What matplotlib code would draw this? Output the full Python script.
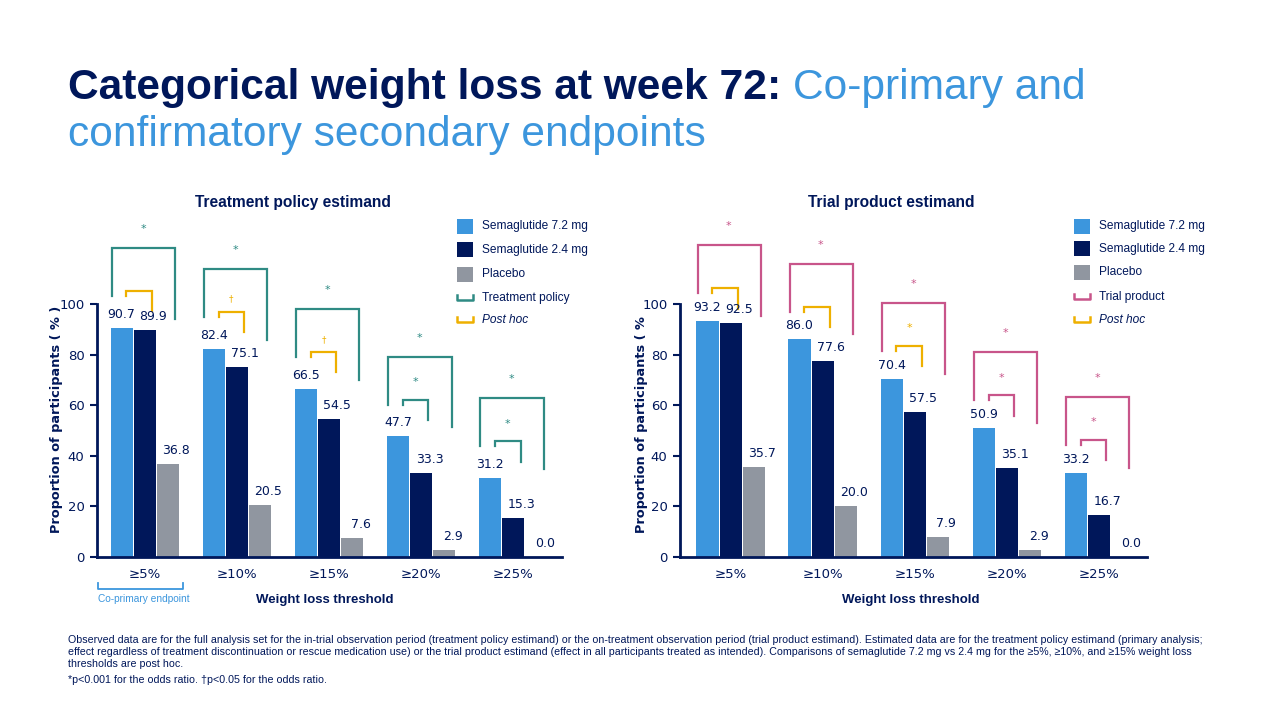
import matplotlib
matplotlib.use('Agg')
import matplotlib.pyplot as plt
from matplotlib.lines import Line2D
from matplotlib.patches import Rectangle

# data
categories = ['≥5%', '≥10%', '≥15%', '≥20%', '≥25%']
series = ['Semaglutide 7.2 mg', 'Semaglutide 2.4 mg', 'Placebo']

tp_sema72 = [90.7, 82.4, 66.5, 47.7, 31.2]
tp_sema24 = [89.9, 75.1, 54.5, 33.3, 15.3]
tp_placebo = [36.8, 20.5, 7.6, 2.9, 0.0]

tr_sema72 = [93.2, 86.0, 70.4, 50.9, 33.2]
tr_sema24 = [92.5, 77.6, 57.5, 35.1, 16.7]
tr_placebo = [35.7, 20.0, 7.9, 2.9, 0.0]

# inner comparison (7.2 vs 2.4): post hoc or not, and the significance sign
tp_inner_posthoc = [True, True, True, False, False]
tp_inner_sign = ['', '†', '†', '*', '*']
tr_inner_posthoc = [True, True, True, False, False]
tr_inner_sign = ['', '', '*', '*', '*']

NAVY = '#00175a'
BLUE = '#3c96dd'
GRAY = '#9096a0'
TEAL = '#2f8b84'
PINK = '#c8558a'
YELLOW = '#eeb000'
colors = [BLUE, NAVY, GRAY]

W, H = 1280, 720
fig = plt.figure(figsize=(12.8, 7.2), dpi=100)

def px(x, y):
    return x / W, 1 - y / H

def draw_bracket(ax, xl, xr, top, yl, yr, color):
    ax.plot([xl, xl, xr, xr], [yl, top, top, yr], color=color, lw=1.6,
            solid_joinstyle='miter', clip_on=False)

def panel(rect, xlim, v72, v24, vpl, main_color, inner_posthoc, inner_sign, top_off):
    ax = fig.add_axes(rect)
    x = list(range(len(categories)))
    for i, vals in enumerate([v72, v24, vpl]):
        pos = [c + (i - 1) * 0.252 for c in x]
        ax.bar(pos, vals, width=0.242, color=colors[i], zorder=2)
        dx = 0 if i == 0 else 6
        for p, v in zip(pos, vals):
            ax.annotate(f'{v:.1f}', (p, v), xytext=(dx, 5), textcoords='offset points',
                        ha='center', va='bottom', fontsize=9, color=NAVY,
                        family='DejaVu Sans')
    for c in x:
        top = v72[c] + top_off
        draw_bracket(ax, c - 0.36, c + 0.33, top, top - 19, top - 28, main_color)
        ax.text(c - 0.02, top + 7.5, '*', ha='center', va='center', fontsize=8,
                color=main_color)
        itop = top - 17
        icol = YELLOW if inner_posthoc[c] else main_color
        draw_bracket(ax, c - 0.20, c + 0.08, itop, itop - 2, itop - 8, icol)
        if inner_sign[c]:
            ax.text(c - 0.06, itop + (7 if inner_sign[c] == '*' else 5), inner_sign[c],
                    ha='center', va='center', fontsize=8 if inner_sign[c] == '*' else 6.5,
                    color=icol)
    ax.set_xlim(*xlim)
    ax.set_ylim(0, 135)
    ax.set_yticks([0, 20, 40, 60, 80, 100])
    ax.set_xticks(x)
    ax.set_xticklabels(categories)
    for s in ['top', 'right']:
        ax.spines[s].set_visible(False)
    ax.spines['left'].set_bounds(0, 100)
    for s in ['left', 'bottom']:
        ax.spines[s].set_color(NAVY)
        ax.spines[s].set_linewidth(2)
    ax.tick_params(axis='y', colors=NAVY, labelsize=9.5, length=5, width=1.5, pad=4)
    ax.tick_params(axis='x', colors=NAVY, labelsize=9.5, length=0, pad=8)
    for lab in ax.get_xticklabels() + ax.get_yticklabels():
        lab.set_family('DejaVu Sans')
    ax.patch.set_alpha(0)
    return ax

# left panel: y axis at x=97px, bottom at y=557px
ax1 = panel([97 / W, 163 / H, 465 / W, 135 * 2.53 / H], (-0.52, 4.53),
            tp_sema72, tp_sema24, tp_placebo, TEAL, tp_inner_posthoc, tp_inner_sign, 31.5)
ax2 = panel([680 / W, 163 / H, 467 / W, 135 * 2.53 / H], (-0.55, 4.52),
            tr_sema72, tr_sema24, tr_placebo, PINK, tr_inner_posthoc, tr_inner_sign, 30)

# y labels (the right one is cut off on the slide)
fig.text(*px(57, 533), 'Proportion of participants ( % )', rotation=90, ha='center',
         va='bottom', fontsize=9.3, fontweight='bold', color=NAVY, family='DejaVu Sans')
fig.text(*px(641, 533), 'Proportion of participants ( %', rotation=90, ha='center',
         va='bottom', fontsize=9.3, fontweight='bold', color=NAVY, family='DejaVu Sans')

# x labels and panel titles
fig.text(*px(325, 600), 'Weight loss threshold', ha='center', va='center',
         fontsize=9.5, fontweight='bold', color=NAVY, family='Liberation Sans')
fig.text(*px(911, 600), 'Weight loss threshold', ha='center', va='center',
         fontsize=9.5, fontweight='bold', color=NAVY, family='Liberation Sans')
fig.text(*px(293, 203), 'Treatment policy estimand', ha='center', va='center',
         fontsize=11.2, fontweight='bold', color=NAVY, family='Liberation Sans')
fig.text(*px(891, 203), 'Trial product estimand', ha='center', va='center',
         fontsize=11.2, fontweight='bold', color=NAVY, family='Liberation Sans')

# co-primary endpoint marker under >=5%
fig.add_artist(Line2D([98 / W, 98 / W, 183 / W, 183 / W],
                      [1 - 583 / H, 1 - 589 / H, 1 - 589 / H, 1 - 583 / H],
                      color=BLUE, lw=1.3))
fig.text(*px(144, 599), 'Co-primary endpoint', ha='center', va='center',
         fontsize=7.3, color=BLUE, family='Liberation Sans')

# legends
def legend(x0, rows, bracket_label, bracket_color):
    labels = series + [bracket_label, 'Post hoc']
    for k, (lab, y) in enumerate(zip(labels, rows)):
        if k < 3:
            fig.add_artist(Rectangle(px(x0, y + 7.5), 16 / W, 15 / H,
                                     color=colors[k], lw=0))
        else:
            c = bracket_color if k == 3 else YELLOW
            fig.add_artist(Line2D([x0 / W, x0 / W, (x0 + 16) / W, (x0 + 16) / W],
                                  [1 - (y - 3) / H, 1 - (y + 2) / H,
                                   1 - (y + 2) / H, 1 - (y - 3) / H],
                                  color=c, lw=1.8))
        fig.text(*px(x0 + 25, y), lab, ha='left', va='center', fontsize=8.6,
                 color=NAVY, family='Liberation Sans',
                 style='italic' if k == 4 else 'normal')

legend(457, [226, 250, 274, 298, 320], 'Treatment policy', TEAL)
legend(1074, [226, 249, 272, 297, 320], 'Trial product', PINK)

# title in two colours
renderer = fig.canvas.get_renderer()
t1 = fig.text(68 / W, 1 - 99 / H, 'Categorical weight loss at week 72: ', ha='left',
              va='baseline', fontsize=30.6, fontweight='bold', color=NAVY,
              family='Liberation Sans')
bb = t1.get_window_extent(renderer)
fig.text(bb.x1 / W, 1 - 99 / H, 'Co-primary and', ha='left', va='baseline',
         fontsize=30.6, color=BLUE, family='Liberation Sans')
fig.text(68 / W, 1 - 146 / H, 'confirmatory secondary endpoints', ha='left',
         va='baseline', fontsize=30.6, color=BLUE, family='Liberation Sans')

# footnote
notes = [
    (640, 'Observed data are for the full analysis set for the in-trial observation period (treatment policy estimand) or the on-treatment observation period (trial product estimand). Estimated data are for the treatment policy estimand (primary analysis;'),
    (652, 'effect regardless of treatment discontinuation or rescue medication use) or the trial product estimand (effect in all participants treated as intended). Comparisons of semaglutide 7.2 mg vs 2.4 mg for the ≥5%, ≥10%, and ≥15% weight loss'),
    (664, 'thresholds are post hoc.'),
    (680, '*p<0.001 for the odds ratio. †p<0.05 for the odds ratio.'),
]
for y, s in notes:
    fig.text(68 / W, 1 - y / H, s, ha='left', va='center', fontsize=7.65, color=NAVY,
             family=['Liberation Sans Narrow', 'Liberation Sans'])

fig.savefig('out.png', dpi=100)
